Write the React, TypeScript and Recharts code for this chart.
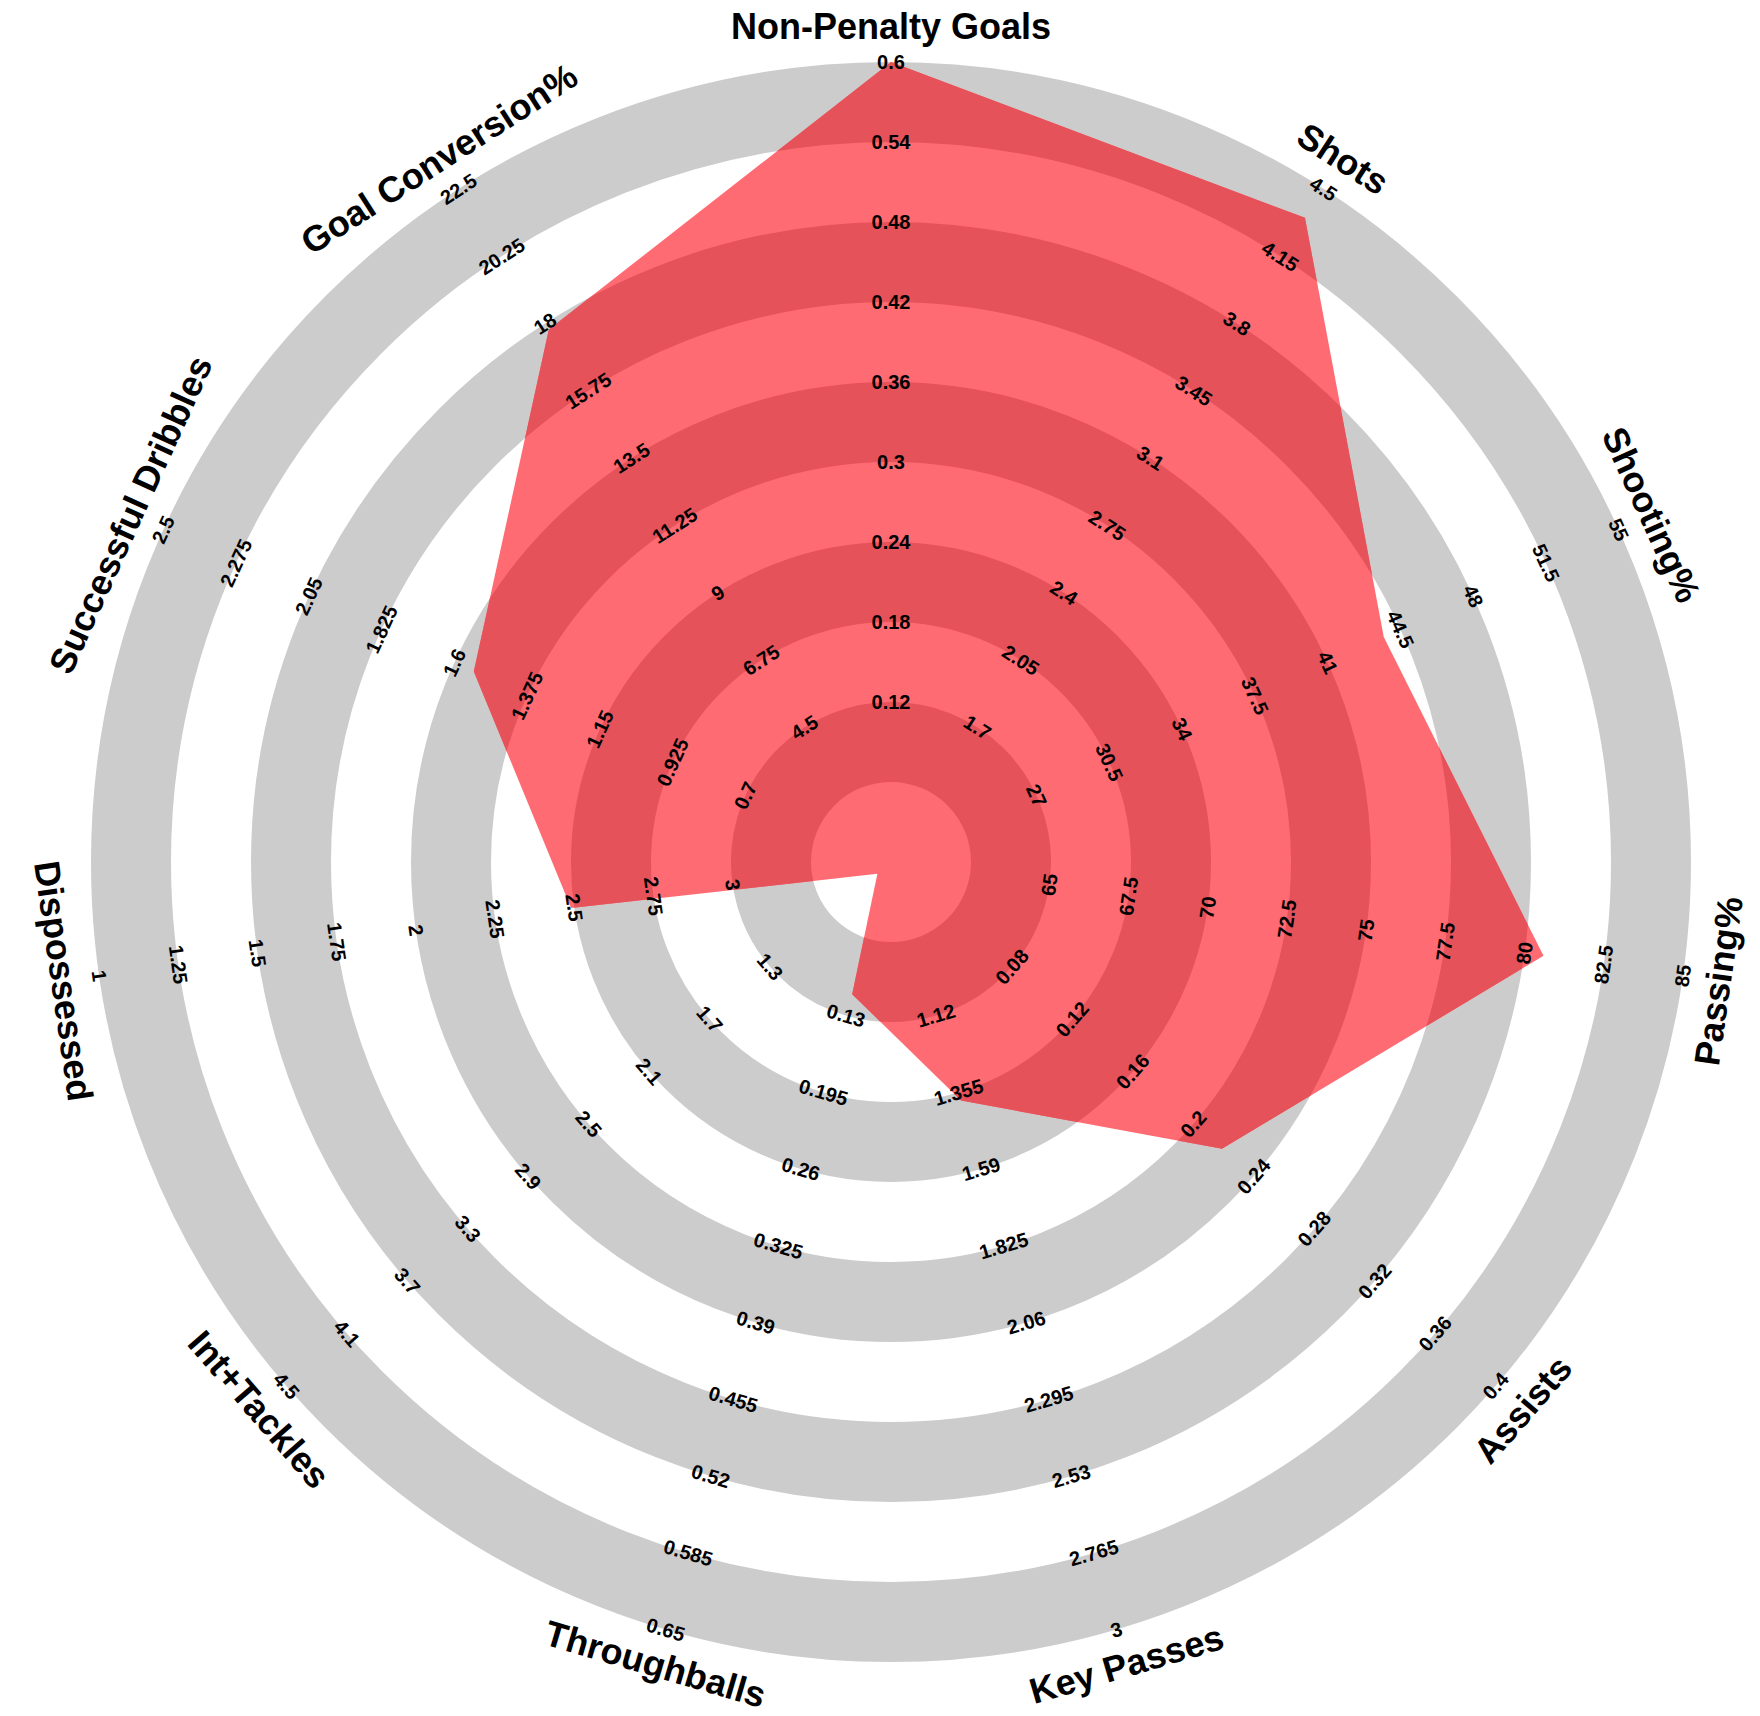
import React from 'react';
import { RadarChart, PolarGrid, PolarAngleAxis, PolarRadiusAxis, Radar } from 'recharts';

// ---------- data ----------
const PARAMS = [
  'Non-Penalty Goals',
  'Shots',
  'Shooting%',
  'Passing%',
  'Assists',
  'Key Passes',
  'Throughballs',
  'Int+Tackles',
  'Dispossessed',
  'Successful Dribbles',
  'Goal Conversion%',
];
const VALUES = [0.6, 4.35, 43.7, 80.6, 0.219, 1.38, 0.112, 0.59, 2.49, 1.54, 17.8];
const RANGE_LOW = [0, 1, 20, 60, 0, 0.65, 0, 0.5, 3.5, 0.25, 0];
const RANGE_HIGH = [0.6, 4.5, 55, 85, 0.4, 3, 0.65, 4.5, 1, 2.5, 22.5];

const TICKS_NPG = ['0.12', '0.18', '0.24', '0.3', '0.36', '0.42', '0.48', '0.54', '0.6'];
const TICKS_SHOTS = ['1.7', '2.05', '2.4', '2.75', '3.1', '3.45', '3.8', '4.15', '4.5'];
const TICKS_SHOOTING = ['27', '30.5', '34', '37.5', '41', '44.5', '48', '51.5', '55'];
const TICKS_PASSING = ['65', '67.5', '70', '72.5', '75', '77.5', '80', '82.5', '85'];
const TICKS_ASSISTS = ['0.08', '0.12', '0.16', '0.2', '0.24', '0.28', '0.32', '0.36', '0.4'];
const TICKS_KEYPASS = ['1.12', '1.355', '1.59', '1.825', '2.06', '2.295', '2.53', '2.765', '3'];
const TICKS_THROUGH = ['0.13', '0.195', '0.26', '0.325', '0.39', '0.455', '0.52', '0.585', '0.65'];
const TICKS_INTTACK = ['1.3', '1.7', '2.1', '2.5', '2.9', '3.3', '3.7', '4.1', '4.5'];
const TICKS_DISPOSS = ['3', '2.75', '2.5', '2.25', '2', '1.75', '1.5', '1.25', '1'];
const TICKS_DRIBBLE = ['0.7', '0.925', '1.15', '1.375', '1.6', '1.825', '2.05', '2.275', '2.5'];
const TICKS_GOALCONV = ['4.5', '6.75', '9', '11.25', '13.5', '15.75', '18', '20.25', '22.5'];

const RANGE_TICKS = [
  TICKS_NPG, TICKS_SHOTS, TICKS_SHOOTING, TICKS_PASSING, TICKS_ASSISTS, TICKS_KEYPASS,
  TICKS_THROUGH, TICKS_INTTACK, TICKS_DISPOSS, TICKS_DRIBBLE, TICKS_GOALCONV,
];
// fractions of the radius at which the range labels sit (ring boundaries)
const TICK_FRACTIONS = [0.2, 0.3, 0.4, 0.5, 0.6, 0.7, 0.8, 0.9, 1.0];

// ---------- layout / style ----------
const W = 1760;
const H = 1716;
const CX = 891;
const CY = 862;
const OUTER = 800;
const LABEL_GAP = 36;
const BAND = 0.1; // width of each ring as fraction of radius
const GRAY_RING_CENTERS = [0.15, 0.35, 0.55, 0.75, 0.95];
const GRAY = '#cccccc';
const LIGHT_RED = '#ff6b72';
const DARK_RED = '#e6525a';
const FONT = '"Liberation Sans", Arial, Helvetica, sans-serif';

const clamp01 = (v: number) => Math.max(0, Math.min(1, v));

const chartData = PARAMS.map((p, i) => ({
  param: p,
  raw: VALUES[i],
  norm: clamp01((VALUES[i] - RANGE_LOW[i]) / (RANGE_HIGH[i] - RANGE_LOW[i])),
}));

function textRotation(angle: number) {
  const s = Math.sin((angle * Math.PI) / 180);
  return s >= -1e-9 ? 90 - angle : -90 - angle;
}

const AxisTick = (props: any) => {
  const { x, y, payload } = props;
  const angle = Number(payload.coordinate);
  const rot = textRotation(angle);
  const idx = PARAMS.indexOf(payload.value);
  const cx = typeof props.cx === 'number' ? props.cx : CX;
  const cy = typeof props.cy === 'number' ? props.cy : CY;
  const radius = typeof props.radius === 'number' ? props.radius : OUTER;
  const rad = (angle * Math.PI) / 180;
  const ticks = idx >= 0 ? RANGE_TICKS[idx] : [];
  return (
    <g>
      <text
        x={x}
        y={y}
        transform={`rotate(${rot}, ${x}, ${y})`}
        textAnchor="middle"
        dominantBaseline="central"
        fontFamily={FONT}
        fontWeight="bold"
        fontSize={36}
        fill="#000"
      >
        {payload.value}
      </text>
      {ticks.map((lab, k) => {
        const r = TICK_FRACTIONS[k] * radius;
        const tx = cx + r * Math.cos(rad);
        const ty = cy - r * Math.sin(rad);
        return (
          <text
            key={k}
            x={tx}
            y={ty}
            transform={`rotate(${rot}, ${tx}, ${ty})`}
            textAnchor="middle"
            dominantBaseline="central"
            fontFamily={FONT}
            fontWeight="bold"
            fontSize={20}
            fill="#000"
          >
            {lab}
          </text>
        );
      })}
    </g>
  );
};

const RadarShape = (props: any) => {
  const pts: any[] = props.points || [];
  if (!pts.length) return <g />;
  const cx = pts[0].cx ?? CX;
  const cy = pts[0].cy ?? CY;
  const ref = pts.reduce((a, b) => (b.value > a.value ? b : a), pts[0]);
  const outer = Math.hypot(ref.x - cx, ref.y - cy) / (ref.value || 1);
  const d = pts.map((p) => `${p.x},${p.y}`).join(' ');
  return (
    <g>
      <defs>
        <clipPath id="radar-poly-clip">
          <polygon points={d} />
        </clipPath>
      </defs>
      <polygon points={d} fill={LIGHT_RED} stroke="none" />
      <g clipPath="url(#radar-poly-clip)">
        {GRAY_RING_CENTERS.map((f) => (
          <circle
            key={f}
            cx={cx}
            cy={cy}
            r={f * outer}
            fill="none"
            stroke={DARK_RED}
            strokeWidth={BAND * outer}
          />
        ))}
      </g>
    </g>
  );
};

export default function App() {
  return (
    <div style={{ position: 'absolute', left: 0, top: 0, width: W, height: H, background: '#fff' }}>
      <RadarChart
        width={W}
        height={H}
        cx={CX}
        cy={CY}
        outerRadius={OUTER}
        startAngle={90}
        endAngle={-270}
        data={chartData}
        margin={{ top: 0, right: 0, bottom: 0, left: 0 }}
      >
        <PolarGrid
          gridType="circle"
          radialLines={false}
          polarRadius={GRAY_RING_CENTERS.map((f) => f * OUTER)}
          stroke={GRAY}
          strokeWidth={BAND * OUTER}
        />
        <PolarRadiusAxis type="number" domain={[0, 1]} axisLine={false} tick={false} tickLine={false} />
        <Radar dataKey="norm" isAnimationActive={false} shape={RadarShape} />
        <PolarAngleAxis
          dataKey="param"
          axisLine={false}
          tickLine={false}
          tickSize={LABEL_GAP}
          tick={AxisTick}
        />
      </RadarChart>
    </div>
  );
}
